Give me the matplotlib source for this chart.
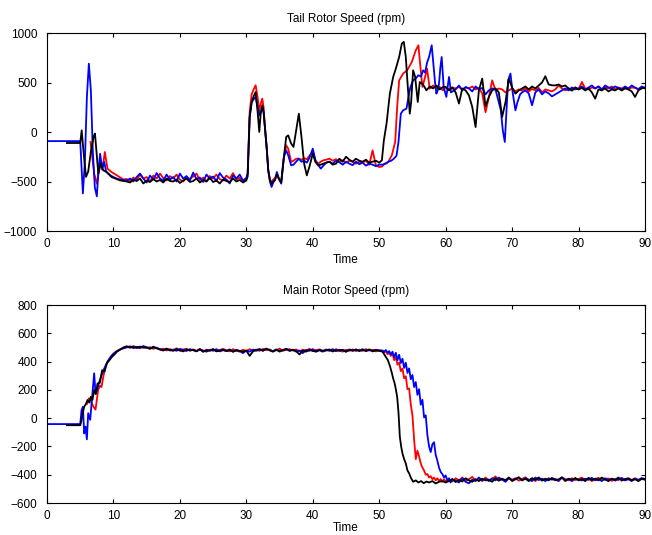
import numpy as np
import matplotlib.pyplot as plt

plt.rcParams['font.family'] = ['Liberation Sans', 'DejaVu Sans']

# ---------------- Tail rotor speed (rpm) ----------------
tail_seg3_t = [30.2, 30.5, 30.8, 31.1, 31.4, 31.7, 31.95, 32.15, 32.4, 32.6, 32.8, 33.05,
               33.3, 33.55, 33.8, 34.05, 34.3, 34.6, 34.9, 35.25, 35.65, 36.0, 36.3, 36.75,
               37.1, 37.5, 37.9, 38.3, 38.7, 39.1, 39.5, 40.0, 40.4, 40.8, 41.2, 41.6]

tail_blue_t = np.r_[[0, 5.0, 5.2, 5.4, 5.7, 6.0, 6.3, 6.6, 6.9, 7.2, 7.5, 7.75, 8.0, 8.3, 8.6,
                     8.9, 9.2, 9.6, 10.0, 10.5, 11.0, 11.5],
                    np.arange(12, 30.01, 0.5), tail_seg3_t, np.arange(42, 50.01, 0.5),
                    [50.5, 51.0, 51.4, 51.8, 52.2, 52.6, 52.9, 53.25, 53.6, 54.1, 54.4, 54.7,
                     55.1, 55.5, 55.9, 56.3, 56.6, 56.9, 57.2, 57.5, 57.9, 58.2, 58.4, 58.6,
                     58.8, 59.0, 59.2, 59.4, 59.7, 60.1, 60.5, 60.8],
                    np.arange(61.5, 68.01, 0.5),
                    [68.3, 68.6, 68.9, 69.1, 69.4, 69.75, 70.1, 70.5, 70.8, 71.2],
                    np.arange(71.5, 90.01, 0.5)]
tail_blue = [-92, -92, -350, -620, -300, 350, 690, 420, -200, -560, -650, -380, -220, -380, -300,
             -400, -420, -440, -455, -470, -480, -485,
             -490, -470, -500, -455, -420, -470, -510, -440, -480, -415,
             -470, -490, -430, -480, -455, -500, -420, -470, -445, -490,
             -410, -475, -460, -505, -430, -470, -450, -495, -415, -460,
             -480, -520, -440, -470, -430, -490, -465,
             -420, 150, 300, 330, 354, 250, 168, 200, 236, 200, 50, -150,
             -387, -500, -555, -510, -480, -404, -470, -522, -252, -185, -235, -337,
             -330, -300, -270, -300, -290, -310, -260, -168, -286, -330, -370, -340,
             -310, -300, -320, -290, -305, -330, -300, -320, -335, -300, -325, -310,
             -340, -320, -330, -345, -330,
             -330, -320, -300, -290, -270, -240, -101, 185, 219, 236, 354, 455,
             522, 540, 573, 560, 623, 600, 700, 758, 876, 657, 500, 387,
             420, 488, 650, 758, 455, 354, 556, 400,
             430, 470, 420, 455, 440, 410, 460, 430, 445, 380, 420, 440, 430, 300,
             220, 17, -101, 150, 522, 590, 390, 219, 300, 380,
             400, 420, 390, 270, 400, 430, 380, 410, 390, 360,
             380, 400, 420, 440, 420, 450, 430, 440, 460, 430,
             450, 470, 440, 460, 430, 470, 450, 440, 460, 445,
             430, 460, 440, 470, 450, 430, 460, 445]

tail_red_t = np.r_[[6.55, 6.8, 7.1, 7.5, 7.8, 8.1, 8.4, 8.7, 9.1, 9.7, 10.5, 11.5],
                   np.arange(12, 30.01, 0.5), tail_seg3_t, np.arange(42, 50.01, 0.5),
                   [50.4, 50.8, 51.35, 51.9, 52.4, 52.7, 53.0, 53.6, 54.2, 54.9, 55.5, 55.9,
                    56.1, 56.5, 56.9, 57.2, 57.6, 58.1, 58.6, 59.1, 59.6, 60.0, 60.5, 61.0],
                   np.arange(61.5, 90.01, 0.5)]
tail_red = [-101, -250, -420, -521, -400, -286, -353, -202, -370, -404, -437, -480,
            -475, -495, -460, -480, -430, -470, -455, -500, -440, -470,
            -420, -465, -490, -445, -470, -430, -480, -500, -455, -475,
            -450, -420, -485, -460, -500, -445, -470, -430, -475, -490,
            -440, -470, -415, -480, -460, -500, -470,
            -420, 200, 380, 430, 472, 350, 202, 280, 337, 250, 50, -150,
            -387, -480, -505, -480, -470, -430, -480, -500, -260, -134, -168, -303,
            -290, -270, -269, -280, -265, -275, -240, -202, -290, -320, -300, -286,
            -280, -269, -290, -275, -300, -285, -310, -290, -300, -320, -300, -310,
            -290, -330, -185, -340, -353,
            -350, -320, -303, -235, -101, 252, 522, 590, 623, 707, 825, 876,
            724, 455, 556, 640, 438, 470, 440, 455, 420, 455, 430, 450,
            440, 455, 430, 450, 440, 460, 430, 445, 390, 200,
            350, 522, 420, 440, 430, 400, 420, 440, 410, 430,
            420, 440, 410, 435, 420, 445, 400, 430, 420, 410,
            430, 470, 440, 420, 440, 430, 450, 430, 505, 440,
            430, 450, 440, 460, 430, 450, 440, 460, 430, 450,
            440, 455, 430, 450, 445, 435, 450, 440]

tail_black_t = np.r_[[3.0, 5.0, 5.22, 5.5, 5.87, 6.2, 6.6, 7.0, 7.22, 7.5, 7.72, 8.07, 8.47,
                      8.97, 9.7, 10.95, 11.5],
                     np.arange(12, 30.01, 0.5), tail_seg3_t, np.arange(42, 50.01, 0.5),
                     [50.4, 50.7, 51.1, 51.6, 52.1, 52.5, 53.0, 53.4, 53.7, 54.0, 54.3, 54.6,
                      54.8, 55.1, 55.4, 55.8, 56.1, 56.6, 57.1, 57.6, 58.1, 58.6, 59.1, 59.6,
                      60.0, 60.5, 61.0],
                     np.arange(61.5, 90.01, 0.5)]
tail_black = [-111, -111, 17, -200, -454, -400, -200, -50, -16, -250, -420, -320, -387,
              -404, -454, -488, -495,
              -500, -510, -480, -495, -470, -520, -490, -505, -475, -500,
              -485, -510, -470, -495, -500, -480, -515, -490, -470, -505,
              -495, -470, -510, -485, -500, -465, -505, -490, -520, -480,
              -495, -505, -470, -500, -485, -510, -490,
              -450, 150, 300, 360, 404, 200, 0, 180, 270, 200, 50, -150,
              -387, -490, -522, -500, -488, -430, -470, -510, -252, -50, -34, -117,
              -151, 17, 185, -50, -320, -438, -350, -218, -303, -337, -330, -320,
              -310, -300, -330, -320, -270, -300, -250, -280, -300, -270, -290, -300,
              -280, -310, -300, -290, -310,
              -286, -84, 84, 387, 556, 640, 758, 893, 910, 758, 455, 185,
              300, 623, 560, 303, 505, 480, 421, 460, 440, 470, 430, 455,
              455, 420, 450,
              400, 287, 440, 420, 370, 253, 50, 420, 540, 260,
              354, 420, 440, 400, 152, 300, 539, 450, 387, 420,
              440, 460, 430, 460, 440, 470, 500, 563, 480, 472,
              470, 480, 460, 470, 440, 417, 450, 430, 445, 420,
              440, 400, 337, 430, 420, 440, 410, 430, 420, 440,
              420, 440, 430, 410, 354, 420, 440, 450]

# ---------------- Main rotor speed (rpm) ----------------
main_blue_t = np.r_[[0, 5.0, 5.2, 5.4, 5.6, 5.8, 6.0, 6.2, 6.5, 6.8, 7.1, 7.3, 7.55, 7.8, 8.1,
                     8.5, 8.8, 9.1, 9.4, 9.7, 10.0, 10.4, 10.8, 11.2, 11.6],
                    np.arange(12, 50.01, 0.5), np.arange(50.5, 61.01, 0.25),
                    np.arange(61.5, 90.01, 0.5)]
main_blue = [-42, -42, 57, 80, -108, -60, -150, 35, -12, 151, 317, 174, 200, 245, 290,
             339, 370, 400, 420, 440, 455, 470, 480, 490, 495,
             500, 508, 495, 505, 498, 510, 500, 492, 505, 496,
             488, 480, 492, 478, 485, 476, 490, 482, 475, 488,
             480, 472, 486, 478, 470, 484, 476, 488, 472, 480,
             476, 486, 470, 482, 474, 460, 478, 470, 484, 476,
             488, 478, 492, 480, 474, 486, 470, 482, 490, 478,
             484, 470, 478, 460, 482, 476, 488, 472, 480, 470,
             482, 476, 488, 474, 484, 478, 470, 486, 476, 484,
             478, 488, 474, 482, 476, 484, 478,
             478, 470, 482, 462, 474, 450,
             470, 430, 462, 410, 448, 390, 420, 355,
             392, 320, 352, 275, 305, 220, 255, 165,
             205, 95, 130, 5, 20, -120, -200, -240,
             -185, -170, -260, -300, -350, -380, -395, -420,
             -405, -440, -425, -455, -435,
             -440, -455, -425, -450, -461, -435, -445, -420, -440, -430,
             -445, -425, -440, -420, -435, -450, -425, -440, -430, -420,
             -440, -425, -435, -445, -420, -438, -428, -445, -425, -435,
             -430, -442, -420, -438, -430, -445, -425, -435, -440, -428,
             -436, -422, -440, -430, -445, -425, -438, -428, -442, -430,
             -425, -440, -432, -445, -428, -436, -424, -430]

main_red_t = np.r_[[6.0, 6.3, 6.6, 7.0, 7.3, 7.7, 8.0, 8.2, 8.5, 8.8, 9.1, 9.4, 9.7, 10.0,
                    10.4, 10.8, 11.2, 11.6],
                   np.arange(12, 50.01, 0.5), np.arange(50.5, 60.01, 0.25),
                   np.arange(60.5, 90.01, 0.5)]
main_red = [100, 140, 120, 80, 60, 200, 230, 220, 300, 360, 395, 420, 440, 455,
            470, 482, 490, 495,
            505, 498, 510, 500, 494, 506, 496, 502, 490, 498,
            484, 492, 478, 488, 480, 494, 476, 486, 490, 478,
            486, 476, 490, 470, 484, 478, 488, 474, 482, 490,
            480, 472, 488, 476, 470, 484, 474, 488, 478, 482,
            476, 490, 482, 486, 472, 480, 492, 476, 484, 488,
            478, 486, 472, 484, 478, 490, 474, 482, 486, 476,
            486, 480, 472, 488, 478, 470, 484, 476, 486, 474,
            484, 476, 488, 478, 484, 472, 480,
            476, 466, 472, 452, 462, 440,
            455, 410, 430, 378, 392, 332, 350, 282,
            296, 205, 210, 95, 20, -150, -290, -230,
            -270, -320, -350, -370, -400, -395, -420, -410,
            -432, -420, -440, -425, -445, -430, -450, -432,
            -447,
            -430, -448, -425, -440, -420, -445, -432, -415, -440, -428,
            -445, -420, -438, -430, -412, -440, -428, -446, -422, -435,
            -425, -442, -430, -418, -440, -426, -445, -420, -436, -428,
            -440, -422, -435, -445, -418, -432, -440, -425, -438, -430,
            -420, -440, -428, -445, -430, -422, -440, -432, -426, -444,
            -430, -438, -422, -440, -428, -436, -425, -442, -430, -435]

main_black_t = np.r_[[3.0, 5.0, 5.2, 5.4, 5.6, 5.85, 6.1, 6.35, 6.6, 6.85, 7.1, 7.35, 7.6,
                      7.95, 8.3, 8.65, 9.0, 9.4, 9.8, 10.15, 10.5, 11.0, 11.5],
                     np.arange(12, 50.01, 0.5),
                     [50.5, 50.9, 51.3, 51.6, 51.9, 52.1, 52.3, 52.5, 52.7, 52.9, 53.1, 53.3,
                      53.5, 53.75, 54.0, 54.25, 54.5, 54.75, 55.1, 55.5, 55.9, 56.3, 56.7,
                      57.1, 57.5, 58.0, 58.5, 59.0, 59.5, 60.0],
                     np.arange(60.5, 90.01, 0.5)]
main_black = [-50, -50, -13, 40, 81, 100, 128, 110, 151, 130, 199, 170, 245,
              250, 339, 330, 387, 410, 434, 450, 469, 485, 500,
              508, 500, 504, 496, 506, 498, 500, 490, 502, 494,
              486, 478, 490, 482, 476, 488, 480, 472, 486, 478,
              482, 474, 486, 470, 480, 476, 488, 472, 478, 484,
              474, 482, 470, 480, 476, 470, 478, 440, 472, 484,
              486, 476, 490, 480, 470, 484, 474, 480, 488, 476,
              482, 474, 450, 478, 470, 484, 476, 470, 482, 476,
              478, 486, 472, 480, 476, 484, 470, 482, 478, 486,
              474, 482, 476, 486, 472, 480, 476,
              470, 440, 410, 370, 320, 280, 250, 205, 150, 40, -130, -200,
              -250, -290, -320, -370, -390, -420, -450, -440, -455, -445, -460,
              -448, -455, -445, -462, -450, -445, -455,
              -445, -430, -452, -438, -448, -425, -440, -450, -432, -445,
              -428, -440, -435, -450, -425, -442, -430, -438, -420, -445,
              -432, -418, -440, -428, -445, -425, -436, -420, -442, -430,
              -438, -425, -440, -432, -420, -445, -428, -436, -424, -440,
              -430, -445, -422, -438, -428, -440, -420, -435, -445, -428,
              -436, -420, -442, -430, -425, -440, -432, -445, -428, -434]

# グラフの描画
fig = plt.figure(figsize=(6.52, 5.35), dpi=100)
ax1 = fig.add_axes([47 / 652, 1 - 231 / 535, 598 / 652, 198 / 535])
ax2 = fig.add_axes([47 / 652, 1 - 503 / 535, 598 / 652, 198 / 535])

panels = [
    (ax1, "Tail Rotor Speed (rpm)",
     [(tail_red_t, tail_red, "#ff0000"), (tail_blue_t, tail_blue, "#0000ff"),
      (tail_black_t, tail_black, "#000000")],
     (-1000, 1000), np.arange(-1000, 1001, 500), 3),
    (ax2, "Main Rotor Speed (rpm)",
     [(main_red_t, main_red, "#ff0000"), (main_blue_t, main_blue, "#0000ff"),
      (main_black_t, main_black, "#000000")],
     (-600, 800), np.arange(-600, 801, 200), 0),
]

for ax, title, lines, ylim, yticks, lpad in panels:
    for t, v, c in lines:
        assert len(t) == len(v), (title, c, len(t), len(v))
        ax.plot(t, v, color=c, linewidth=1.3)
    ax.set_xlim(0, 90)
    ax.set_ylim(*ylim)
    ax.set_xticks(np.arange(0, 91, 10))
    ax.set_yticks(yticks)
    ax.tick_params(direction="in", top=True, right=True, length=3, labelsize=8.5)
    ax.tick_params(axis="y", pad=7)
    ax.tick_params(axis="x", pad=5)
    ax.set_title(title, fontsize=8.5, pad=8)
    ax.set_xlabel("Time", fontsize=8.5, labelpad=lpad)
    for s in ax.spines.values():
        s.set_linewidth(0.8)

fig.savefig("out.png", dpi=100)
